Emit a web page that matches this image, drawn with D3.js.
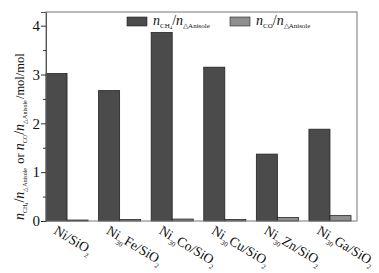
<!DOCTYPE html>
<html>
<head>
<meta charset="utf-8">
<script src="https://cdn.jsdelivr.net/npm/d3@7"></script>
<style>
  body { margin: 0; background: #fff; }
  text { font-family: "Liberation Serif", "Times New Roman", serif; fill: #111; }
</style>
</head>
<body>
<svg id="chart" width="379" height="273"></svg>
<script>
// catalysts (prefix, subscript, rest, last subscript)
const catalysts = [
  ["Ni/SiO", "", "", "2"],
  ["Ni", "30", "Fe/SiO", "2"],
  ["Ni", "30", "Co/SiO", "2"],
  ["Ni", "30", "Cu/SiO", "2"],
  ["Ni", "30", "Zn/SiO", "2"],
  ["Ni", "30", "Ga/SiO", "2"]
];
const ch4Values = [3.02, 2.67, 3.86, 3.15, 1.37, 1.88];
const coValues = [0.02, 0.03, 0.04, 0.03, 0.07, 0.11];
const yTicks = [0, 1, 2, 3, 4];

const ctx = { left: 46, right: 357, top: 12, bottom: 221 };
const DARK = "#4b4b4b", LIGHT = "#8e8e8e";

var svg = d3.select("#chart");

var xScale = d3.scaleBand()
  .domain(d3.range(catalysts.length))
  .range([ctx.left, 351])
  .paddingInner(0.2)
  .paddingOuter(0);

var yScale = d3.scaleLinear()
  .domain([0, 4.28])
  .range([ctx.bottom, ctx.top]);

var half = xScale.bandwidth() / 2;

// bars
var groups = svg.append("g");
catalysts.forEach((c, i) => {
  groups.append("rect")
    .attr("x", xScale(i)).attr("width", half)
    .attr("y", yScale(ch4Values[i])).attr("height", yScale(0) - yScale(ch4Values[i]))
    .attr("fill", DARK).attr("stroke", "#222").attr("stroke-width", 0.8);
  groups.append("rect")
    .attr("x", xScale(i) + half).attr("width", half)
    .attr("y", yScale(coValues[i])).attr("height", yScale(0) - yScale(coValues[i]))
    .attr("fill", LIGHT).attr("stroke", "#222").attr("stroke-width", 0.8);
});

// frame
svg.append("rect")
  .attr("x", ctx.left).attr("y", ctx.top)
  .attr("width", ctx.right - ctx.left).attr("height", ctx.bottom - ctx.top)
  .attr("fill", "none").attr("stroke", "#777").attr("stroke-width", 1);

// y axis
var yAxis = d3.axisLeft(yScale).tickValues(yTicks).tickSize(5).tickFormat(d3.format("d"));
var y = svg.append("g").attr("transform", "translate(" + ctx.left + ",0)").call(yAxis);
y.select(".domain").attr("stroke", "#555");
y.selectAll(".tick line").attr("stroke", "#333");
y.selectAll(".tick text").attr("font-size", 15).attr("x", -6)
  .style("font-family", "Liberation Serif, serif");

var minor = d3.axisLeft(yScale).tickValues([0.5, 1.5, 2.5, 3.5]).tickSize(3).tickFormat("");
svg.append("g").attr("transform", "translate(" + ctx.left + ",0)").call(minor)
  .call(g => g.select(".domain").remove())
  .selectAll(".tick line").attr("stroke", "#333");

// x labels
catalysts.forEach((c, i) => {
  var t = svg.append("text")
    .attr("transform", "translate(" + (xScale(i) + 7) + "," + (ctx.bottom + 12) + ") rotate(31)")
    .attr("font-size", 13.5);
  t.append("tspan").text(c[0]);
  if (c[1]) {
    t.append("tspan").attr("font-size", 7).attr("dy", 4).text(c[1]);
    t.append("tspan").attr("dy", -4).text(c[2]);
  }
  t.append("tspan").attr("font-size", 7).attr("dy", 4).text(c[3]);
});

// helper: n_sub / n_ΔAnisole
function ratio(sel, sub, size, subSize) {
  sel.append("tspan").attr("font-style", "italic").attr("font-size", size).text("n");
  sel.append("tspan").attr("font-size", subSize).attr("dy", 3).text(sub);
  var back = -3;
  if (sub === "CH") {
    sel.append("tspan").attr("font-size", subSize * 0.7).attr("dy", 1).text("4");
    back = -4;
  }
  sel.append("tspan").attr("font-size", size).attr("dy", back).text("/");
  sel.append("tspan").attr("font-style", "italic").attr("font-size", size).text("n");
  sel.append("tspan").attr("font-size", subSize).attr("dy", 3).text("\u25B3Anisole");
  sel.append("tspan").attr("font-size", size).attr("dy", -3).text("\u200A");
}

// y label
var yl = svg.append("text")
  .attr("transform", "translate(24,220) rotate(-90)");
ratio(yl, "CH", 14, 6);
yl.append("tspan").attr("font-size", 12.5).text(" or ");
ratio(yl, "CO", 14, 6);
yl.append("tspan").attr("font-size", 12.5).text("/mol/mol");

// legend
const legendItems = [
  { sub: "CH", color: DARK, x: 127 },
  { sub: "CO", color: LIGHT, x: 230 }
];
legendItems.forEach(l => {
  svg.append("rect").attr("x", l.x).attr("y", 17).attr("width", 20).attr("height", 9)
    .attr("fill", l.color).attr("stroke", "#222").attr("stroke-width", 0.6);
  var t = svg.append("text").attr("x", l.x + 26).attr("y", 25);
  ratio(t, l.sub, 14, 7);
});
</script>
</body>
</html>
